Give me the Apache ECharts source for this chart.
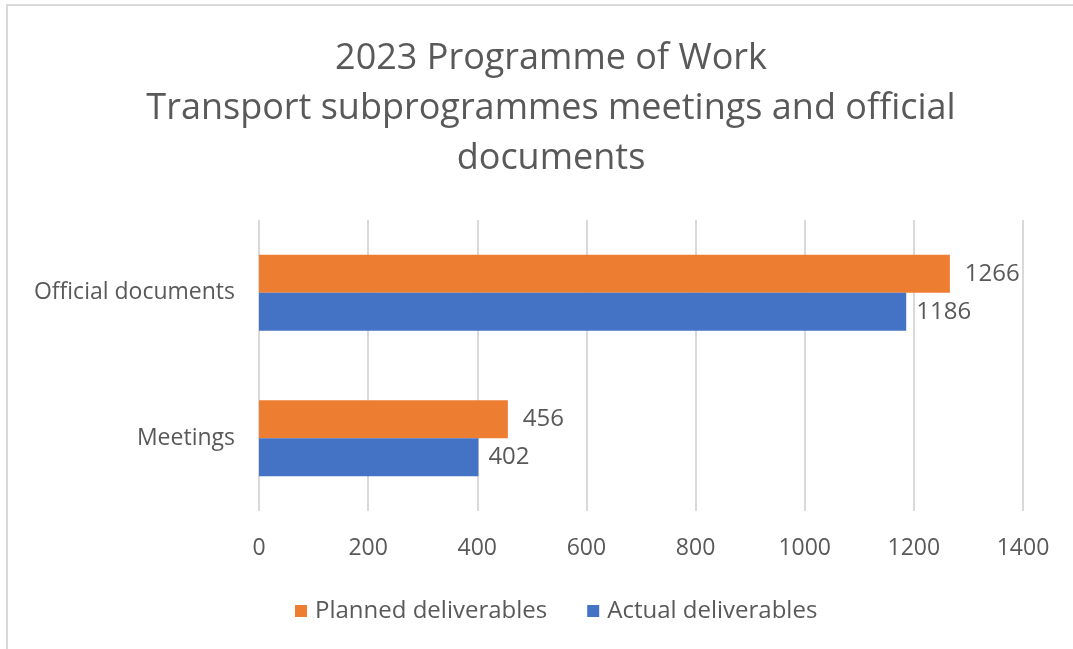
<!DOCTYPE html>
<html>
<head>
<meta charset="utf-8">
<script src="https://cdn.jsdelivr.net/npm/echarts@6/dist/echarts.min.js"></script>
<style>
  html, body { margin: 0; padding: 0; background: #fff; }
  #frame { position: absolute; left: 6px; top: 4px; width: 1067px; height: 645px;
           border-left: 2px solid #d9d9d9; border-top: 2px solid #d9d9d9; box-sizing: border-box; }
  #chart { position: absolute; left: 0; top: 0; width: 1073px; height: 649px; }
</style>
</head>
<body>
<div id="frame"></div>
<div id="chart"></div>
<script>
// data
var categories = ['Meetings', 'Official documents'];
var planned = [456, 1266];
var actual = [402, 1186];
var xTicks = [0, 200, 400, 600, 800, 1000, 1200, 1400];

var textColor = '#595959';
var fontName = '"Open Sans", "Noto Sans", sans-serif';

var chart = echarts.init(document.getElementById('chart'));

var option = {
    animation: false,
    title: {
        text: '2023 Programme of Work\nTransport subprogrammes meetings and official\ndocuments',
        left: 546,
        textAlign: 'center',
        top: 29,
        textStyle: {
            fontFamily: fontName,
            fontSize: 36,
            fontWeight: 'normal',
            color: textColor,
            lineHeight: 50
        }
    },
    legend: {
        data: ['Planned deliverables', 'Actual deliverables'],
        left: 290,
        top: 594,
        itemWidth: 12,
        itemHeight: 12,
        itemGap: 40,
        icon: 'rect',
        textStyle: { fontFamily: fontName, fontSize: 24, color: textColor, padding: [0, 0, 0, 3] }
    },
    grid: {
        left: 259,
        right: 50,
        top: 220,
        bottom: 138,
        containLabel: false
    },
    xAxis: {
        type: 'value',
        min: xTicks[0],
        max: xTicks[xTicks.length - 1],
        interval: 200,
        axisLine: { show: false },
        axisTick: { show: false },
        axisLabel: {
            margin: 26,
            fontFamily: fontName,
            fontSize: 23,
            color: textColor,
            formatter: function (v) { return String(v); }
        },
        splitLine: { lineStyle: { color: '#d9d9d9', width: 2 } }
    },
    yAxis: {
        type: 'category',
        data: categories,
        axisLine: { show: false },
        axisTick: { show: false },
        axisLabel: {
            margin: 24,
            fontFamily: fontName,
            fontSize: 23,
            color: textColor
        }
    },
    series: [
        {
            name: 'Planned deliverables',
            type: 'bar',
            data: planned,
            barWidth: 38,
            barGap: '0%',
            itemStyle: { color: '#ed7d31' },
            label: {
                show: true, position: 'right', distance: 15,
                fontFamily: fontName, fontSize: 24, color: textColor
            }
        },
        {
            name: 'Actual deliverables',
            type: 'bar',
            data: actual,
            barWidth: 38,
            barGap: '0%',
            itemStyle: { color: '#4472c4' },
            label: {
                show: true, position: 'right', distance: 10,
                fontFamily: fontName, fontSize: 24, color: textColor
            }
        }
    ]
};

chart.setOption(option);
</script>
</body>
</html>
